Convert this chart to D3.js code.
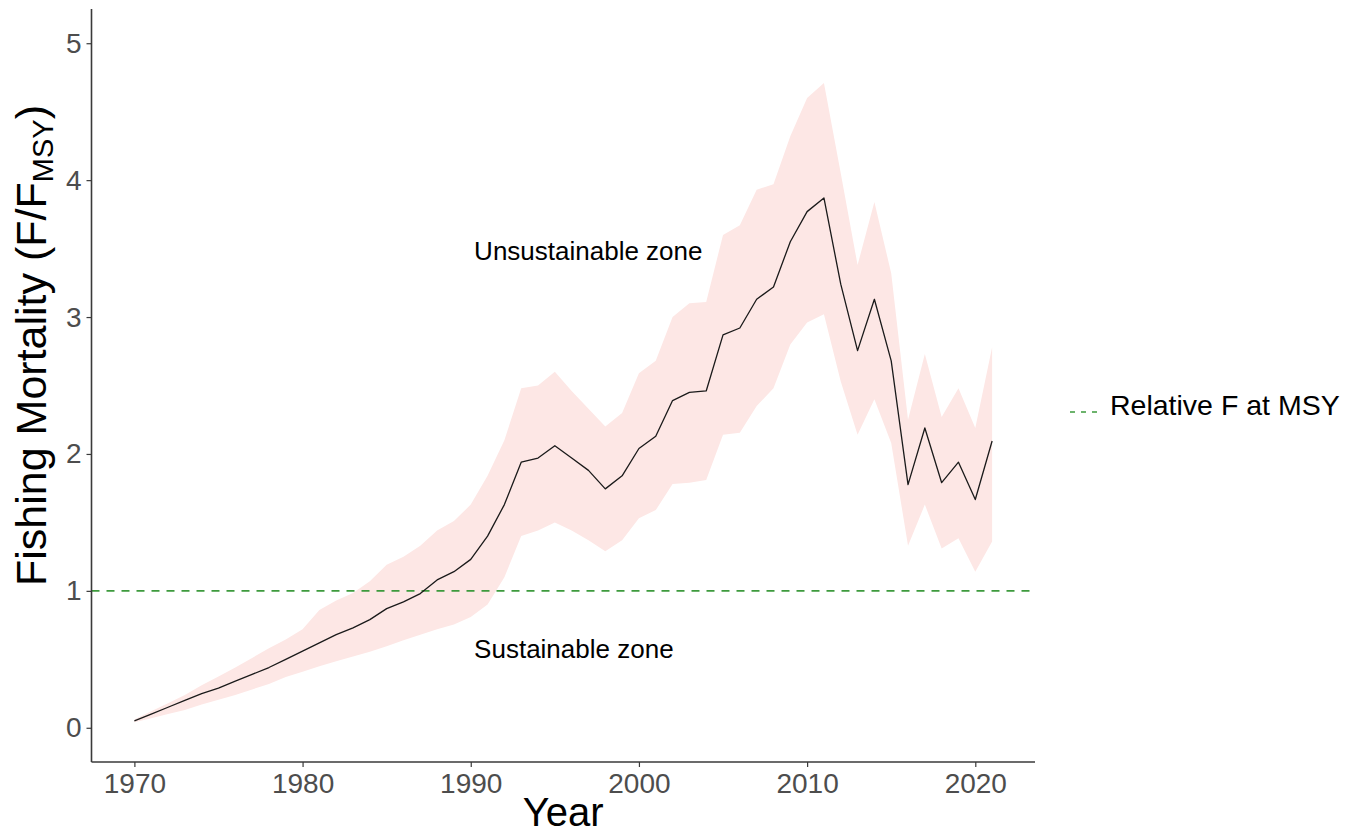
<!DOCTYPE html>
<html>
<head>
<meta charset="utf-8">
<script src="https://cdn.jsdelivr.net/npm/d3@7"></script>
<style>
  html, body { margin: 0; padding: 0; background: #ffffff; }
  svg { display: block; font-family: "Liberation Sans", Arial, sans-serif; }
</style>
</head>
<body>
<svg id="chart" width="1361" height="834"></svg>
<script>
// Relative fishing mortality (F/FMSY) with its uncertainty band, 1970–2021
const years = d3.range(1970, 2022);

const fRatio = [
  0.05, 0.10, 0.15, 0.20, 0.25, 0.29, 0.34, 0.39, 0.44, 0.50,
  0.56, 0.62, 0.68, 0.73, 0.79, 0.87, 0.92, 0.98, 1.08, 1.14,
  1.23, 1.40, 1.63, 1.94, 1.97, 2.06, 1.97, 1.88, 1.745, 1.84,
  2.04, 2.13, 2.39, 2.45, 2.46, 2.87, 2.92, 3.13, 3.22, 3.55,
  3.77, 3.87, 3.24, 2.755, 3.13, 2.68, 1.776, 2.19, 1.79, 1.94,
  1.667, 2.095
];

const fUpper = [
  0.06, 0.12, 0.18, 0.24, 0.31, 0.375, 0.44, 0.51, 0.58, 0.645,
  0.72, 0.86, 0.93, 0.985, 1.07, 1.19, 1.25, 1.33, 1.44, 1.51,
  1.63, 1.84, 2.10, 2.48, 2.50, 2.60, 2.46, 2.33, 2.20, 2.30,
  2.59, 2.68, 3.00, 3.10, 3.11, 3.60, 3.67, 3.93, 3.97, 4.32,
  4.60, 4.71, 4.05, 3.38, 3.84, 3.32, 2.25, 2.73, 2.27, 2.48,
  2.19, 2.78
];

const fLower = [
  0.04, 0.07, 0.10, 0.13, 0.17, 0.205, 0.24, 0.28, 0.32, 0.37,
  0.41, 0.45, 0.485, 0.52, 0.555, 0.595, 0.64, 0.68, 0.72, 0.755,
  0.81, 0.90, 1.10, 1.40, 1.44, 1.50, 1.44, 1.37, 1.29, 1.37,
  1.53, 1.59, 1.78, 1.79, 1.81, 2.14, 2.155, 2.35, 2.48, 2.80,
  2.96, 3.02, 2.53, 2.14, 2.40, 2.08, 1.33, 1.63, 1.31, 1.385,
  1.14, 1.36
];

const xTicks = [1970, 1980, 1990, 2000, 2010, 2020];
const yTicks = [0, 1, 2, 3, 4, 5];
const fmsyLevel = 1;

const zoneLabels = [
  { text: "Unsustainable zone", year: 1990.2, value: 3.42 },
  { text: "Sustainable zone", year: 1990.2, value: 0.51 }
];
const legendLabel = "Relative F at MSY";

const series = years.map((yr, i) => ({
  year: yr, f: fRatio[i], lo: fLower[i], hi: fUpper[i]
}));

const svg = d3.select("#chart");
const panel = { left: 91.5, right: 1035, top: 9, bottom: 762 };

// continuous scales with 5% padding around the data / limits
const xPad = (2021 - 1970) * 0.05;
const x = d3.scaleLinear()
  .domain([1970 - xPad, 2021 + xPad])
  .range([panel.left, panel.right]);
const y = d3.scaleLinear()
  .domain([-0.25, 5.25])
  .range([panel.bottom, panel.top]);

// uncertainty ribbon
svg.append("path")
  .datum(series)
  .attr("fill", "#fde7e5")
  .attr("d", d3.area()
    .x(d => x(d.year))
    .y0(d => y(d.lo))
    .y1(d => y(d.hi)));

// FMSY reference line
svg.append("line")
  .attr("x1", panel.left).attr("x2", panel.right)
  .attr("y1", y(fmsyLevel)).attr("y2", y(fmsyLevel))
  .attr("stroke", "#3d9a3d")
  .attr("stroke-width", 1.6)
  .attr("stroke-dasharray", "8,7");

// estimated F/FMSY
svg.append("path")
  .datum(series)
  .attr("fill", "none")
  .attr("stroke", "#1a1a1a")
  .attr("stroke-width", 1.3)
  .attr("stroke-linejoin", "round")
  .attr("d", d3.line().x(d => x(d.year)).y(d => y(d.f)));

// zone annotations
svg.selectAll("text.zone")
  .data(zoneLabels)
  .join("text")
  .attr("class", "zone")
  .attr("x", d => x(d.year))
  .attr("y", d => y(d.value))
  .attr("font-size", 26)
  .attr("fill", "#000")
  .text(d => d.text);

// axes
const xAxis = svg.append("g")
  .attr("transform", `translate(0,${panel.bottom})`)
  .call(d3.axisBottom(x).tickValues(xTicks).tickFormat(d3.format("d")).tickSize(5).tickPadding(6))
  .call(g => g.select(".domain").attr("stroke", "#3a3a3a").attr("stroke-width", 1.6)
    .attr("d", `M${panel.left},0H${panel.right}`));
xAxis.selectAll(".tick line").attr("stroke", "#3a3a3a").attr("stroke-width", 1.2);
xAxis.selectAll(".tick text")
  .attr("font-size", 28).attr("fill", "#4d4d4d")
  .attr("font-family", "'Liberation Sans', Arial, sans-serif");

const yAxis = svg.append("g")
  .attr("transform", `translate(${panel.left},0)`)
  .call(d3.axisLeft(y).tickValues(yTicks).tickFormat(d3.format("d")).tickSize(5).tickPadding(5))
  .call(g => g.select(".domain").attr("stroke", "#3a3a3a").attr("stroke-width", 1.6)
    .attr("d", `M0,${panel.top}V${panel.bottom}`));
yAxis.selectAll(".tick line").attr("stroke", "#3a3a3a").attr("stroke-width", 1.2);
yAxis.selectAll(".tick text")
  .attr("font-size", 28).attr("fill", "#4d4d4d")
  .attr("font-family", "'Liberation Sans', Arial, sans-serif");

// axis titles
svg.append("text")
  .attr("x", (panel.left + panel.right) / 2)
  .attr("y", 826)
  .attr("text-anchor", "middle")
  .attr("font-size", 40)
  .attr("fill", "#000")
  .text("Year");

const yTitle = svg.append("text")
  .attr("transform", `translate(46,${(panel.top + panel.bottom) / 2 - 40}) rotate(-90)`)
  .attr("text-anchor", "middle")
  .attr("font-size", 43)
  .attr("fill", "#000");
yTitle.append("tspan").text("Fishing Mortality (F/F");
yTitle.append("tspan").attr("font-size", 29).attr("dy", 7).text("MSY");
yTitle.append("tspan").attr("dy", -7).text(")");

// legend
const legend = svg.append("g").attr("transform", "translate(1070,412)");
legend.append("line")
  .attr("x1", 0).attr("x2", 28).attr("y1", 0).attr("y2", 0)
  .attr("stroke", "#3d9a3d").attr("stroke-width", 1.4)
  .attr("stroke-dasharray", "5,6");
legend.append("text")
  .attr("x", 40).attr("y", 3)
  .attr("font-size", 28.5)
  .attr("fill", "#000")
  .text(legendLabel);
</script>
</body>
</html>
